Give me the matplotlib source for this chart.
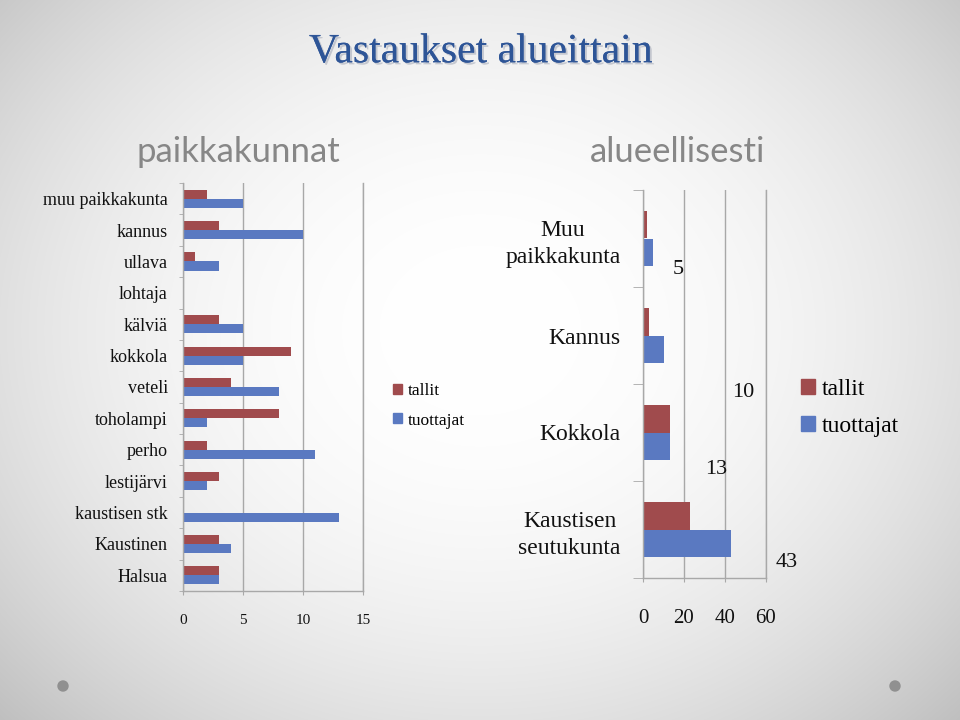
import numpy as np
import matplotlib
matplotlib.use("Agg")
import matplotlib.pyplot as plt
import matplotlib.patheffects as pe
from matplotlib.patches import Patch

# ---- data ----
left_categories = ["muu paikkakunta", "kannus", "ullava", "lohtaja", "kälviä", "kokkola",
                   "veteli", "toholampi", "perho", "lestijärvi", "kaustisen stk",
                   "Kaustinen", "Halsua"]
left_tallit = [2, 3, 1, 0, 3, 9, 4, 8, 2, 3, 0, 3, 3]
left_tuottajat = [5, 10, 3, 0, 5, 5, 8, 2, 11, 2, 13, 4, 3]
left_xticks = [0, 5, 10, 15]

right_categories = ["Muu\npaikkakunta", "Kannus", "Kokkola", "Kaustisen\nseutukunta"]
right_tallit = [2, 3, 13, 23]
right_tuottajat = [5, 10, 13, 43]
right_xticks = [0, 20, 40, 60]
series_names = ["tallit", "tuottajat"]

RED = "#A04B4D"
BLUE = "#5A79C1"
GRID = "#A8A8A8"
SERIF = ["Liberation Serif", "DejaVu Serif"]

fig = plt.figure(figsize=(9.6, 7.2), dpi=100)

# background radial gradient
bg = fig.add_axes([0, 0, 1, 1], zorder=-10)
yy, xx = np.mgrid[0:720, 0:960]
r = np.sqrt(((xx - 480) / 560.0) ** 2 + ((yy - 330) / 470.0) ** 2)
val = 1.0 - 0.17 * np.clip(r, 0, 1.3) ** 2.2
bg.imshow(np.dstack([val, val, val]), extent=[0, 960, 720, 0], aspect="auto")
bg.set_xlim(0, 960); bg.set_ylim(720, 0)
bg.axis("off")
for cx in (63, 895):
    bg.add_patch(plt.Circle((cx, 686), 5, color="#909090"))

# titles
fig.text(0.501, 1 - 52 / 720, "Vastaukset alueittain", ha="center", va="center",
         fontsize=30, family=SERIF, color="#2E5597",
         path_effects=[pe.withSimplePatchShadow(offset=(1.5, -1.5), shadow_rgbFace="#9aa0b0", alpha=0.5), pe.Normal()])
fig.text(238 / 960, 1 - 152 / 720, "paikkakunnat", ha="center", va="center",
         fontsize=25, family=["Lato", "DejaVu Sans"], color="#878787")
fig.text(678 / 960, 1 - 152 / 720, "alueellisesti", ha="center", va="center",
         fontsize=25, family=["Lato", "DejaVu Sans"], color="#878787")

def style_axes(ax, n, xticks, xlabsize, xpad, ylabsize, ypad):
    ax.set_facecolor("none")
    ax.set_ylim(n - 0.5, -0.5)
    ax.set_xlim(xticks[0], xticks[-1])
    ax.set_xticks(xticks)
    ax.grid(axis="x", color=GRID, lw=1)
    ax.set_axisbelow(True)
    ax.spines["top"].set_visible(False)
    for s in ("left", "bottom", "right"):
        ax.spines[s].set_color(GRID)
        ax.spines[s].set_linewidth(1)
    ax.tick_params(axis="y", which="major", length=0, pad=ypad, labelsize=ylabsize)
    ax.tick_params(axis="y", which="minor", right=False)
    ax.tick_params(axis="x", length=3, color=GRID, pad=xpad, labelsize=xlabsize)
    for lab in ax.get_xticklabels() + ax.get_yticklabels():
        lab.set_family(SERIF)
        lab.set_color("#111111")

# ---- left chart ----
axL = fig.add_axes([183 / 960, 1 - 591 / 720, 180 / 960, 408 / 720])
y = np.arange(len(left_categories))
h = 0.29
axL.barh(y - h / 2, left_tallit, height=h, color=RED, label=series_names[0])
axL.barh(y + h / 2, left_tuottajat, height=h, color=BLUE, label=series_names[1])
axL.set_yticks(y)
axL.set_yticklabels(left_categories)
style_axes(axL, len(left_categories), left_xticks, 11, 13.5, 13, 11)
axL.set_yticks(np.arange(len(left_categories) + 1) - 0.5, minor=True)
axL.tick_params(axis="y", which="minor", length=3, color=GRID)
axL.legend(handles=[Patch(color=RED, label=series_names[0]), Patch(color=BLUE, label=series_names[1])],
           loc="center left", bbox_to_anchor=(393 / 960, 1 - 406 / 720), bbox_transform=fig.transFigure,
           frameon=False, prop={"family": SERIF, "size": 12.5}, handlelength=0.52, handleheight=0.52,
           handletextpad=0.35, labelspacing=0.75, borderpad=0, borderaxespad=0)

# ---- right chart ----
axR = fig.add_axes([643 / 960, 1 - 578 / 720, 123 / 960, 388 / 720])
y2 = np.arange(len(right_categories))
h2 = 0.28
axR.barh(y2 - h2 / 2, right_tallit, height=h2, color=RED)
axR.barh(y2 + h2 / 2, right_tuottajat, height=h2, color=BLUE)
axR.set_yticks(y2)
axR.set_yticklabels(right_categories)
style_axes(axR, len(right_categories), right_xticks, 15, 19, 17, 16)
axR.set_yticks(np.arange(len(right_categories) + 1) - 0.5, minor=True)
axR.tick_params(axis="y", which="minor", length=7, color=GRID)
for lab in axR.get_yticklabels():
    lab.set_multialignment("center")
    lab.set_linespacing(1.4)
axR.legend(handles=[Patch(color=RED, label=series_names[0]), Patch(color=BLUE, label=series_names[1])],
           loc="center left", bbox_to_anchor=(801 / 960, 1 - 408 / 720), bbox_transform=fig.transFigure,
           frameon=False, prop={"family": SERIF, "size": 17}, handlelength=0.6, handleheight=0.6,
           handletextpad=0.28, labelspacing=0.7, borderpad=0, borderaxespad=0)

# data labels of tuottajat (offset placement as in the reference)
label_offsets = [(12, 0.32), (39, 0.59), (22.6, 0.38), (27, 0.34)]
for i, v in enumerate(right_tuottajat):
    dx, dy = label_offsets[i]
    axR.text(v + dx, i + dy, str(v), ha="center", va="center", fontsize=16,
             family=SERIF, color="#111111", clip_on=False)

fig.savefig("out.png", dpi=100)
